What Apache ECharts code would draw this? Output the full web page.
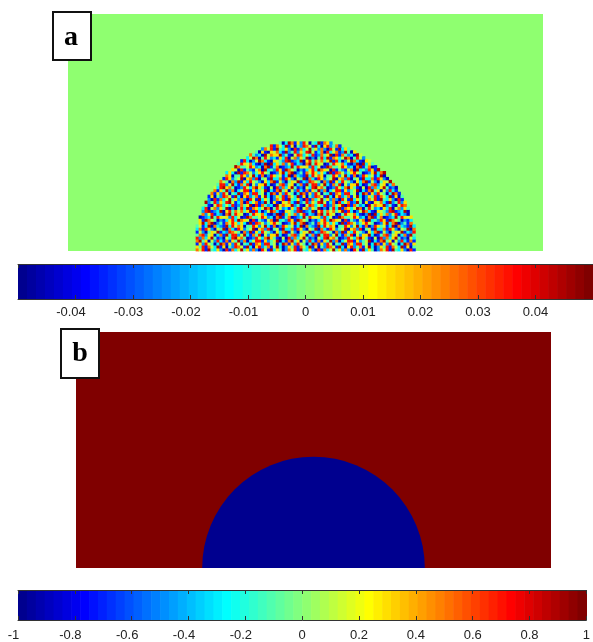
<!DOCTYPE html>
<html>
<head>
<meta charset="utf-8">
<script src="https://cdn.jsdelivr.net/npm/echarts@6/dist/echarts.min.js"></script>
<style>
  html, body { margin: 0; padding: 0; background: #fff; }
  #chart { width: 593px; height: 642px; }
</style>
</head>
<body>
<div id="chart"></div>
<script>
// Simulation domain (grid units) shared by both fields
const domainX = [0, 256];
const domainY = [0, 128];

// Droplet sitting on the bottom wall
const dropCenter = [128, 0];
const dropRadius = 60;

// (a) initial perturbation: zero outside, noise inside the droplet
const fieldABackground = 0;
const noiseCell = 1.6;
const noiseLevels = [-0.045, -0.035, -0.025, -0.015, -0.005, 0.005, 0.015, 0.025, 0.035, 0.045];
const noiseRows = [
  '7208519364027581943620817359462',
  '3916042875193068247159302648175',
  '8450397162854039716285043917628',
  '1649270358816245903179460528317',
  '5082736941205389674012853796410',
  '9317480526693014782560371948825',
  '0465913287540729163854206379152',
  '6728045193371862054907318624590',
  '2193857604486259317028645139073',
  '8540126937902417586363091875246',
  '3976508142157093428619754021368',
  '7012394865628350197445862307914',
  '4865731029093647258132079486501',
  '1239068475746918302597310654289',
  '9704852316380572649020483917635',
  '5381274690817423095766924105873',
  '0657319248264895137083571294061'
];

// (b) order parameter: matrix outside, droplet inside
const phaseOutside = 1;
const phaseInside = -1;

// Colour bar ranges and tick spacing
const rangeA = [-0.05, 0.05];
const tickA = 0.01;
const rangeB = [-1, 1];
const tickB = 0.2;

// MATLAB-style jet colormap with m levels
function jet(m) {
  const n = Math.ceil(m / 4);
  const u = [];
  for (let i = 1; i <= n; i++) u.push(i / n);
  for (let i = 1; i < n; i++) u.push(1);
  for (let i = n; i >= 1; i--) u.push(i / n);
  const off = Math.ceil(n / 2) - (m % 4 === 1 ? 1 : 0);
  const J = Array.from({ length: m }, () => [0, 0, 0]);
  u.forEach((val, k) => {
    const g = off + k + 1;
    const r = g + n, b = g - n;
    if (r >= 1 && r <= m) J[r - 1][0] = val;
    if (g >= 1 && g <= m) J[g - 1][1] = val;
    if (b >= 1 && b <= m) J[b - 1][2] = val;
  });
  return J.map(c => 'rgb(' + c.map(x => Math.round(x * 255)).join(',') + ')');
}
const palette = jet(64);
function colorOf(v, range) {
  let idx = Math.floor((v - range[0]) / (range[1] - range[0]) * palette.length);
  idx = Math.max(0, Math.min(palette.length - 1, idx));
  return palette[idx];
}

// Noise cells that fall inside the droplet
const noiseCells = [];
const nCols = Math.ceil((domainX[1] - domainX[0]) / noiseCell);
const nRows = Math.ceil((domainY[1] - domainY[0]) / noiseCell);
for (let j = 0; j < nRows; j++) {
  const row = noiseRows[j % noiseRows.length];
  for (let i = 0; i < nCols; i++) {
    const cx = domainX[0] + (i + 0.5) * noiseCell;
    const cy = domainY[0] + (j + 0.5) * noiseCell;
    const dx = cx - dropCenter[0], dy = cy - dropCenter[1];
    if (dx * dx + dy * dy > dropRadius * dropRadius) continue;
    const d = +row[(i + j * 13) % row.length];
    noiseCells.push([domainX[0] + i * noiseCell, domainY[0] + j * noiseCell, noiseLevels[d]]);
  }
}

const levelIndex = palette.map((_, k) => [k]);

function fieldRect(value, range) {
  return function (params, api) {
    const p0 = api.coord([domainX[0], domainY[1]]);
    const p1 = api.coord([domainX[1], domainY[0]]);
    return { type: 'rect', shape: { x: p0[0], y: p0[1], width: p1[0] - p0[0], height: p1[1] - p0[1] },
             style: { fill: colorOf(value, range) } };
  };
}

function colorbarItem(range) {
  return function (params, api) {
    const k = api.value(0);
    const step = (range[1] - range[0]) / palette.length;
    const p0 = api.coord([range[0] + k * step, 1]);
    const p1 = api.coord([range[0] + (k + 1) * step, 0]);
    return { type: 'rect', shape: { x: p0[0], y: p0[1], width: p1[0] - p0[0] + 0.6, height: p1[1] - p0[1] },
             style: { fill: palette[k] } };
  };
}

const labelFont = { fontFamily: 'Liberation Sans, Arial, sans-serif', fontSize: 13, color: '#222' };
function tickLabel(v) {
  const s = String(Math.round(v * 1000) / 1000);
  return v < -1e-9 ? '{neg|' + s + '}' : '{pos|' + s + '}';
}
const labelRich = { neg: { padding: [0, 9, 0, 0], ...labelFont }, pos: { ...labelFont } };

function barAxes(gridIndex, range, interval, margin, showEnds) {
  const tick = { show: true, inside: true, length: 4, lineStyle: { color: '#333', width: 1 } };
  const line = { show: true, lineStyle: { color: '#333', width: 1 } };
  return [
    { type: 'value', gridIndex, min: range[0], max: range[1], interval, position: 'bottom', z: 10,
      axisLine: line, axisTick: tick, splitLine: { show: false },
      axisLabel: { show: true, margin, formatter: tickLabel, rich: labelRich, ...labelFont,
                   showMinLabel: showEnds, showMaxLabel: showEnds, hideOverlap: false } },
    { type: 'value', gridIndex, min: range[0], max: range[1], interval, position: 'top', z: 10,
      axisLine: line, axisTick: tick, splitLine: { show: false }, axisLabel: { show: false } }
  ];
}

const hiddenX = (gridIndex) => ({ type: 'value', gridIndex, min: domainX[0], max: domainX[1], show: false });
const hiddenY = (gridIndex) => ({ type: 'value', gridIndex, min: domainY[0], max: domainY[1], show: false });
const unitY = (gridIndex) => ({ type: 'value', gridIndex, min: 0, max: 1, show: false });

const chart = echarts.init(document.getElementById('chart'), null, { renderer: 'canvas' });
chart.setOption({
  backgroundColor: '#fff',
  animation: false,
  grid: [
    { left: 68, top: 14, width: 475, height: 237 },
    { left: 18, top: 264, width: 577, height: 35 },
    { left: 76, top: 332, width: 475, height: 236 },
    { left: 18, top: 590, width: 573, height: 34 }
  ],
  xAxis: [
    hiddenX(0),
    ...barAxes(1, rangeA, tickA, 7, false),
    hiddenX(2),
    ...barAxes(3, rangeB, tickB, 9, true)
  ],
  yAxis: [
    hiddenY(0),
    unitY(1),
    hiddenY(2),
    unitY(3)
  ],
  series: [
    { type: 'custom', xAxisIndex: 0, yAxisIndex: 0, data: [[0]], silent: true,
      renderItem: fieldRect(fieldABackground, rangeA) },
    { type: 'custom', xAxisIndex: 0, yAxisIndex: 0, data: noiseCells, silent: true,
      encode: { x: 0, y: 1 },
      renderItem: function (params, api) {
        const x = api.value(0), y = api.value(1), v = api.value(2);
        const p0 = api.coord([x, y + noiseCell]);
        const p1 = api.coord([x + noiseCell, y]);
        return { type: 'rect', shape: { x: p0[0], y: p0[1], width: p1[0] - p0[0] + 0.4, height: p1[1] - p0[1] + 0.4 },
                 style: { fill: colorOf(v, rangeA) } };
      } },
    { type: 'custom', xAxisIndex: 1, yAxisIndex: 1, data: levelIndex, silent: true,
      renderItem: colorbarItem(rangeA) },
    { type: 'custom', xAxisIndex: 3, yAxisIndex: 2, data: [[0]], silent: true,
      renderItem: fieldRect(phaseOutside, rangeB) },
    { type: 'custom', xAxisIndex: 3, yAxisIndex: 2, data: [[0]], silent: true,
      renderItem: function (params, api) {
        const c = api.coord(dropCenter);
        const r = api.size([dropRadius, 0])[0];
        return { type: 'sector', shape: { cx: c[0], cy: c[1], r0: 0, r: r, startAngle: Math.PI, endAngle: Math.PI * 2, clockwise: true },
                 style: { fill: colorOf(phaseInside, rangeB) } };
      } },
    { type: 'custom', xAxisIndex: 4, yAxisIndex: 3, data: levelIndex, silent: true,
      renderItem: colorbarItem(rangeB) }
  ],
  graphic: [
    { type: 'rect', z: 100, shape: { x: 53, y: 12, width: 38, height: 48 },
      style: { fill: '#fff', stroke: '#111', lineWidth: 2 } },
    { type: 'text', z: 101, x: 71, y: 38,
      style: { text: 'a', font: 'bold 28px "Liberation Serif", serif', fill: '#000', align: 'center', verticalAlign: 'middle' } },
    { type: 'rect', z: 100, shape: { x: 61, y: 329, width: 38, height: 49 },
      style: { fill: '#fff', stroke: '#111', lineWidth: 2 } },
    { type: 'text', z: 101, x: 80, y: 354,
      style: { text: 'b', font: 'bold 28px "Liberation Serif", serif', fill: '#000', align: 'center', verticalAlign: 'middle' } }
  ]
});
</script>
</body>
</html>
